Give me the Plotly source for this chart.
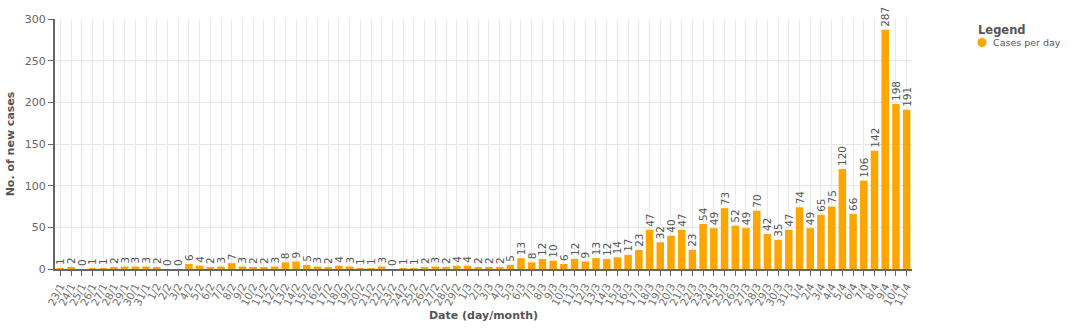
import plotly.graph_objects as go

dates = (["%d/1" % d for d in range(23, 32)] + ["%d/2" % d for d in range(1, 30)]
         + ["%d/3" % d for d in range(1, 32)] + ["%d/4" % d for d in range(1, 12)])
cases = [1, 2, 0, 1, 1, 2, 3, 3, 3,
         2, 0, 0, 6, 4, 2, 3, 7, 3, 2, 2, 3, 8, 9, 5, 3, 2, 4, 3, 1, 1, 3, 0, 1, 1, 2, 3, 2, 4,
         4, 2, 2, 2, 5, 13, 8, 12, 10, 6, 12, 9, 13, 12, 14, 17, 23, 47, 32, 40, 47, 23, 54, 49,
         73, 52, 49, 70, 42, 35, 47,
         74, 49, 65, 75, 120, 66, 106, 142, 287, 198, 191]
series_name = "Cases per day"

font = "DejaVu Sans"
W, H = 1072, 328
L, R, T, B = 55, 160, 19, 59
pw, ph = W - L - R, H - T - B

def px(x):
    return (x - L) / pw

def py(y):
    return (H - B - y) / ph

fig = go.Figure()
fig.add_trace(go.Bar(
    x=dates, y=cases, name=series_name, showlegend=False,
    marker=dict(color="#FFA500", line=dict(width=0)),
    text=[str(v) for v in cases], textposition="outside", textangle=-90,
    textfont=dict(family=font, size=10.5, color="#555555"),
    cliponaxis=False,
))

# legend drawn manually
fig.add_annotation(text="<b>Legend</b>", xref="paper", yref="paper", x=px(976), y=py(30),
                   xanchor="left", yanchor="middle", showarrow=False,
                   font=dict(family=font, size=11.5, color="#555555"))
fig.add_shape(type="circle", xref="paper", yref="paper",
              x0=px(977.5), x1=px(986.5), y0=py(38), y1=py(47),
              fillcolor="#FFA500", line=dict(width=0))
fig.add_annotation(text=series_name, xref="paper", yref="paper", x=px(991), y=py(42.5),
                   xanchor="left", yanchor="middle", showarrow=False,
                   font=dict(family=font, size=9.5, color="#555555"))

fig.update_layout(
    width=W, height=H,
    margin=dict(l=L, r=R, t=T, b=B, autoexpand=False),
    paper_bgcolor="white", plot_bgcolor="white",
    font=dict(family=font, size=10, color="#555555"),
    bargap=0.3, showlegend=False,
    uniformtext=dict(minsize=10, mode="show"),
    xaxis=dict(
        title=dict(text="<b>Date (day/month)</b>", font=dict(size=11, color="#555555"), standoff=5),
        tickmode="array", tickvals=dates, ticktext=dates,
        tickangle=-63, tickfont=dict(size=10.5, color="#707070"),
        showgrid=True, gridcolor="#e9e9e9", gridwidth=1,
        showline=True, linecolor="#666666", linewidth=2,
        ticks="outside", ticklen=5, tickcolor="#666666",
    ),
    yaxis=dict(
        title=dict(text="<b>No. of new cases</b>", font=dict(size=11, color="#555555"), standoff=8),
        range=[0, 300], dtick=50, tickfont=dict(size=11, color="#666666"),
        showgrid=True, gridcolor="#e6e6e6", gridwidth=1, zeroline=False,
        showline=True, linecolor="#666666", linewidth=2,
        ticks="outside", ticklen=5, tickcolor="#666666",
    ),
)
fig.write_html("out.html")
